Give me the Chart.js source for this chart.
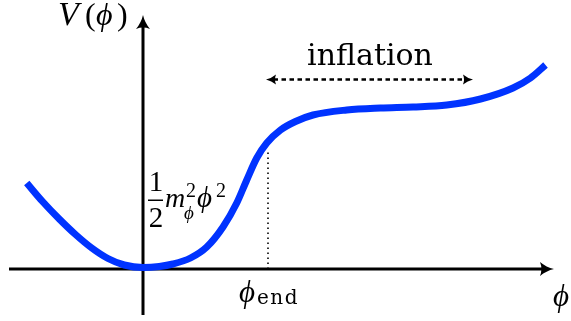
<!DOCTYPE html>
<html lang="en">
<head>
  <meta charset="UTF-8">
  <title>Inflaton potential</title>
  <script src="https://cdn.jsdelivr.net/npm/chart.js"></script>
  <style>
    html, body { margin: 0; padding: 0; background: #fff; }
    #wrap { width: 571px; height: 321px; }
  </style>
</head>
<body>
  <div id="wrap"><canvas id="potentialChart" width="571" height="321"></canvas></div>

  <script>
    // field values (phi = 1 at phi_end) and potential
    const phiValues = [-0.93, -0.80, -0.67, -0.54, -0.41, -0.28, -0.15, 0.0, 0.13, 0.24, 0.38, 0.51, 0.64, 0.75, 0.83, 0.91, 0.99, 1.10, 1.22, 1.36, 1.63, 1.90, 2.16, 2.43, 2.70, 2.96, 3.10, 3.22];
    const potentialValues = [0.86, 0.67, 0.50, 0.345, 0.21, 0.105, 0.04, 0.015, 0.025, 0.05, 0.11, 0.22, 0.42, 0.66, 0.89, 1.11, 1.26, 1.39, 1.475, 1.54, 1.59, 1.61, 1.62, 1.64, 1.70, 1.81, 1.91, 2.04];

    const phiEnd = 1.0;
    const phiEndTop = 1.2;
    const inflationRange = [0.984, 2.64];
    const inflationLevel = 1.895;

    const xAxisRange = [-1.072, 3.288];
    const yAxisRange = [-0.46, 2.54];

    const serif = '"Liberation Serif", "DejaVu Serif", serif';
    const wideSerif = '"DejaVu Serif", serif';

    function arrowHead(ctx, tx, ty, dx, dy, len, half) {
      const nx = -dy, ny = dx;
      const bx = tx - dx * len, by = ty - dy * len;
      ctx.beginPath();
      ctx.moveTo(tx, ty);
      ctx.quadraticCurveTo(tx - dx * len * 0.55 + nx * half * 0.25, ty - dy * len * 0.55 + ny * half * 0.25, bx + nx * half, by + ny * half);
      ctx.quadraticCurveTo(tx - dx * len * 0.8, ty - dy * len * 0.8, bx - nx * half, by - ny * half);
      ctx.quadraticCurveTo(tx - dx * len * 0.55 - nx * half * 0.25, ty - dy * len * 0.55 - ny * half * 0.25, tx, ty);
      ctx.closePath();
      ctx.fill();
    }

    function put(ctx, font, text, x, y, spacing) {
      ctx.font = font;
      ctx.letterSpacing = (spacing || 0) + 'px';
      ctx.fillText(text, x, y);
      ctx.letterSpacing = '0px';
    }

    const axesPlugin = {
      id: 'axesPlugin',
      beforeDatasetsDraw(chart) {
        const ctx = chart.ctx;
        const xs = chart.scales.x, ys = chart.scales.y;
        const x0 = xs.getPixelForValue(0), y0 = ys.getPixelForValue(0);
        const xl = xs.getPixelForValue(xAxisRange[0]), xr = xs.getPixelForValue(xAxisRange[1]);
        const yb = ys.getPixelForValue(yAxisRange[0]), yt = ys.getPixelForValue(yAxisRange[1]);
        ctx.save();
        ctx.strokeStyle = '#000';
        ctx.fillStyle = '#000';
        ctx.lineWidth = 3;
        ctx.beginPath();
        ctx.moveTo(xl, y0); ctx.lineTo(xr - 8, y0);
        ctx.moveTo(x0, yb); ctx.lineTo(x0, yt + 8);
        ctx.stroke();
        arrowHead(ctx, xr, y0, 1, 0, 14, 7);
        arrowHead(ctx, x0, yt, 0, -1, 14, 7);
        ctx.restore();
      },
      afterDraw(chart) {
        const ctx = chart.ctx;
        const xs = chart.scales.x, ys = chart.scales.y;
        const ya = ys.getPixelForValue(inflationLevel);
        ctx.save();
        ctx.fillStyle = '#000';
        arrowHead(ctx, xs.getPixelForValue(inflationRange[0]), ya, -1, 0, 10, 5);
        arrowHead(ctx, xs.getPixelForValue(inflationRange[1]), ya, 1, 0, 10, 5);

        ctx.textBaseline = 'alphabetic';
        ctx.textAlign = 'left';

        // V(phi)
        put(ctx, 'italic 34px ' + serif, 'V', 58, 25);
        put(ctx, '32px ' + serif, '(', 85, 25);
        put(ctx, 'italic 32px ' + serif, 'ϕ', 96, 25);
        put(ctx, '32px ' + serif, ')', 117, 25);

        // inflation
        ctx.textAlign = 'center';
        put(ctx, '30px ' + wideSerif, 'inflation', 370, 65);

        // 1/2 m_phi^2 phi^2
        put(ctx, '29px ' + serif, '1', 156, 191);
        put(ctx, '29px ' + serif, '2', 156, 227);
        ctx.fillRect(148, 199.5, 15, 1.5);
        ctx.textAlign = 'left';
        put(ctx, 'italic 28px ' + serif, 'm', 165, 207);
        put(ctx, '20px ' + serif, '2', 186, 197);
        put(ctx, 'italic 19px ' + serif, 'ϕ', 184, 219);
        put(ctx, 'italic 29px ' + serif, 'ϕ', 197, 207);
        put(ctx, '20px ' + serif, '2', 216, 197);

        // phi_end
        const xe = xs.getPixelForValue(phiEnd);
        put(ctx, 'italic 31px ' + serif, 'ϕ', xe - 29, 302);
        put(ctx, '20px ' + wideSerif, 'end', xe - 11, 304, 1.5);

        // phi axis label
        put(ctx, 'italic 31px ' + serif, 'ϕ', 553, 306);
        ctx.restore();
      }
    };

    const potential = phiValues.map((p, i) => ({ x: p, y: potentialValues[i] }));

    new Chart(document.getElementById('potentialChart').getContext('2d'), {
      type: 'line',
      data: {
        datasets: [
          {
            data: potential,
            borderColor: '#0033ff',
            borderWidth: 7,
            borderCapStyle: 'butt',
            cubicInterpolationMode: 'monotone',
            pointRadius: 0,
            order: 0
          },
          {
            data: [{ x: phiEnd, y: 0 }, { x: phiEnd, y: phiEndTop }],
            borderColor: '#000',
            borderWidth: 1.6,
            borderDash: [1.6, 3.4],
            pointRadius: 0,
            order: 1
          },
          {
            data: [{ x: inflationRange[0] + 0.06, y: inflationLevel }, { x: inflationRange[1] - 0.06, y: inflationLevel }],
            borderColor: '#000',
            borderWidth: 2.4,
            borderDash: [4.5, 3.5],
            pointRadius: 0,
            order: 2
          }
        ]
      },
      options: {
        responsive: false,
        animation: false,
        devicePixelRatio: 1,
        layout: { padding: 0 },
        plugins: { legend: { display: false }, tooltip: { enabled: false } },
        scales: {
          x: { type: 'linear', min: -1.144, max: 3.424, display: false },
          y: { type: 'linear', min: -0.52, max: 2.69, display: false }
        }
      },
      plugins: [axesPlugin]
    });
  </script>
</body>
</html>
